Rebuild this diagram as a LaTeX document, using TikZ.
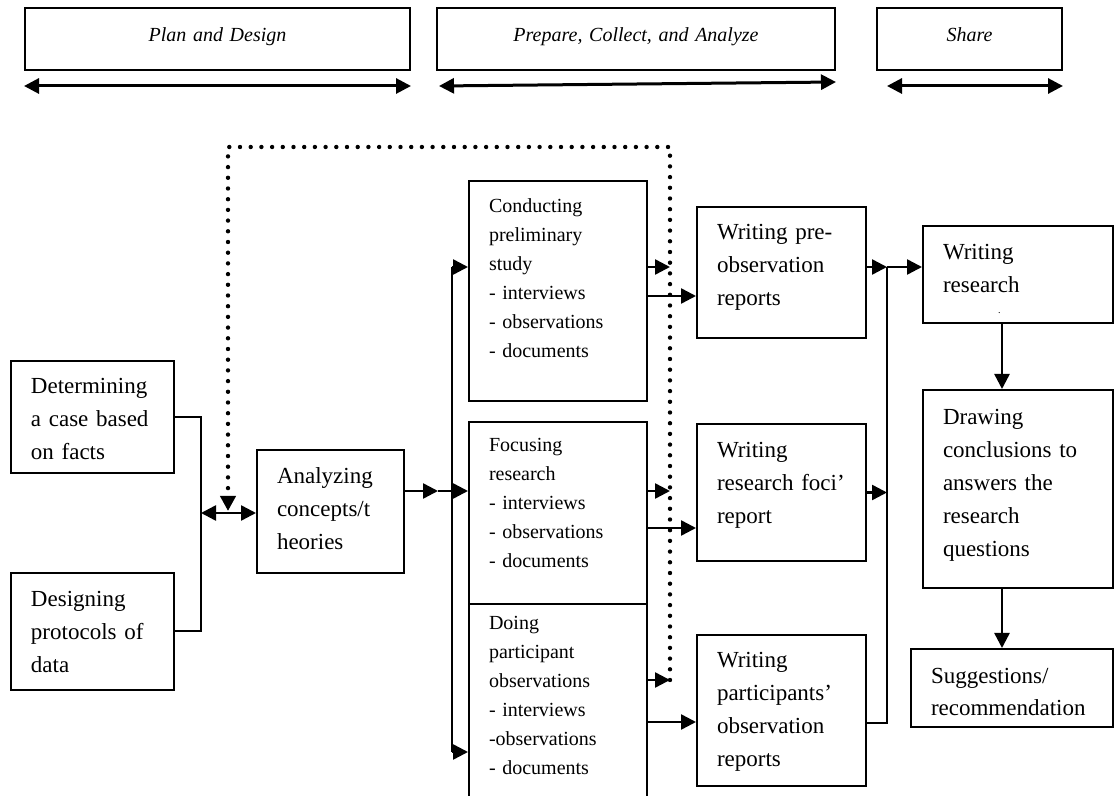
\documentclass[tikz,border=0pt]{standalone}
\usepackage{fontspec}
\setmainfont{Liberation Serif}
\usetikzlibrary{arrows.meta}

\begin{document}
\begin{tikzpicture}[x=0.5pt,y=-0.5pt,>={Triangle[length=7.5pt,width=7.5pt]}]
            \useasboundingbox (0,0) rectangle (1115,796);
            \clip (0,0) rectangle (1115,796);
            \begin{scope}[every node/.style={draw,line width=1pt,inner xsep=5pt,inner ysep=0pt,align=center,text height=17pt,text depth=14pt,font=\fontsize{10}{12}\selectfont\itshape}]
                \node (1) at (217.5,39) [text width=182.5pt] {Plan and Design};
                \node (2) at (636,39) [text width=189pt] {Prepare, Collect, and Analyze};
                \node (3) at (969.5,39) [text width=82.5pt] {Share};
            \end{scope}
            \begin{scope}[every node/.style={draw,line width=1pt,inner xsep=10pt,inner ysep=0pt,align=left,font=\fontsize{11.5}{16.5}\selectfont}]
                \node (4) at (92.5,417) [text width=61.5pt,text height=16.5pt,text depth=39.5pt] {Determining\\a case based\\on facts};
                \node (5) at (92.5,631.5) [text width=61.5pt,text height=17pt,text depth=41.5pt] {Designing\\protocols of\\data};
                \node (6) at (330.5,511.5) [text width=53.5pt,text height=17pt,text depth=44.5pt] {Analyzing\\concepts/t\\heories};
            \end{scope}
            \begin{scope}[every node/.style={draw,line width=1pt,inner xsep=10pt,inner ysep=0pt,align=left,text width=69pt,font=\fontsize{10}{14.5}\selectfont}]
                \node (7) at (558,291) [text height=16pt,text depth=94pt] {Conducting\\preliminary\\study\\- interviews\\- observations\\- documents};
                \node (8) at (558,513) [text height=15pt,text depth=76pt] {Focusing\\research\\- interviews\\- observations\\- documents};
                \node (9) at (558,707) [text height=13pt,text depth=90pt] {Doing\\participant\\observations\\- interviews\\-observations\\- documents};
            \end{scope}
            \begin{scope}[every node/.style={draw,line width=1pt,inner xsep=10pt,inner ysep=0pt,align=left,font=\fontsize{11.5}{16.5}\selectfont}]
                \node (10) at (781.5,272.5) [text width=64.5pt,text height=16.5pt,text depth=49pt] {Writing pre-\\observation\\reports};
                \node (11) at (781.5,492.5) [text width=64.5pt,text height=17pt,text depth=51.5pt] {Writing\\research foci’\\report};
                \node (12) at (781.5,710.5) [text width=64.5pt,text height=16.5pt,text depth=59pt] {Writing\\participants’\\observation\\reports};
                \node (13) at (1018,274.5) [text width=75pt,text height=17pt,text depth=31.5pt] {Writing\\research\\[-6pt]\hspace*{27.5pt}{\tiny .}};
                \node (14) at (1018,489) [text width=75pt,text height=17.5pt,text depth=81.5pt] {Drawing\\conclusions to\\answers the\\research\\questions};
                \node (15) at (1012,688) [text width=81pt,text height=17pt,text depth=22pt] {Suggestions/\\recommendation};
            \end{scope}

            \coordinate (j) at (201,513);
            \coordinate (b0) at (438,491);
            \coordinate (b1) at (452,267);
            \coordinate (b2) at (452,491);
            \coordinate (b3) at (452,752);
            \coordinate (d1) at (670,680);
            \coordinate (d2) at (670,147);
            \coordinate (d3) at (228,147);
            \coordinate (d4) at (228,511);
            \coordinate (e1) at (887,267);
            \coordinate (e2) at (887,723);
            \coordinate (l1) at ([yshift=-11.75pt]10.west);
            \coordinate (l2) at ([yshift=-17.75pt]11.west);
            \coordinate (l3) at ([yshift=-5.75pt]12.west);

            \begin{scope}[every edge/.style={draw,line width=1.5pt}]
                \path
                    ([yshift=-7.5pt]1.south west) edge [<->] ([yshift=-7.5pt]1.south east)
                    ([xshift=1.5pt,yshift=-7.5pt]2.south west) edge [<->] ([yshift=-5.5pt]2.south east)
                    ([xshift=5.5pt,yshift=-7.5pt]3.south west) edge [<->] ([yshift=-7.5pt]3.south east);
            \end{scope}

            \draw [line width=1pt] (4.east) -| (j) |- (5.east);
            \draw [line width=1pt] (b1) -- (b3);
            \draw [line width=1pt] (b0) -- (b2);
            \draw [line width=1pt] (e2 -| 12.east) -- (e2) -- (e1);

            \begin{scope}[every edge/.style={draw,line width=1.25pt}]
                \path
                    (j) edge [<->] (j -| 6.west)
                    (b2 -| 6.east) edge [->] (b0)
                    (b1) edge [->] (b1 -| 7.west)
                    (b2) edge [->] (b2 -| 8.west)
                    (b3) edge [->] (b3 -| 9.west)
                    (b1 -| 7.east) edge [->] (b1 -| d1)
                    (b2 -| 8.east) edge [->] (b2 -| d1)
                    (d1 -| 9.east) edge [->] (d1)
                    (l1 -| 7.east) edge [->] (l1)
                    (l2 -| 8.east) edge [->] (l2)
                    (l3 -| 9.east) edge [->] (l3)
                    (e1 -| 10.east) edge [->] (e1)
                    (11.east) edge [->] (11.east -| e1)
                    (e1) edge [->] (e1 -| 13.west)
                    ([xshift=-8pt]13.south) edge [->] ([xshift=-8pt]14.north)
                    ([xshift=-8pt]14.south) edge [->] ([xshift=-5pt]15.north);
            \end{scope}

            \draw [line width=2.2pt,dash pattern=on 0pt off 5.35pt,line cap=round,->] (d1) -- (d2) -- (d3) -- (d4);
        \end{tikzpicture}
\end{document}
